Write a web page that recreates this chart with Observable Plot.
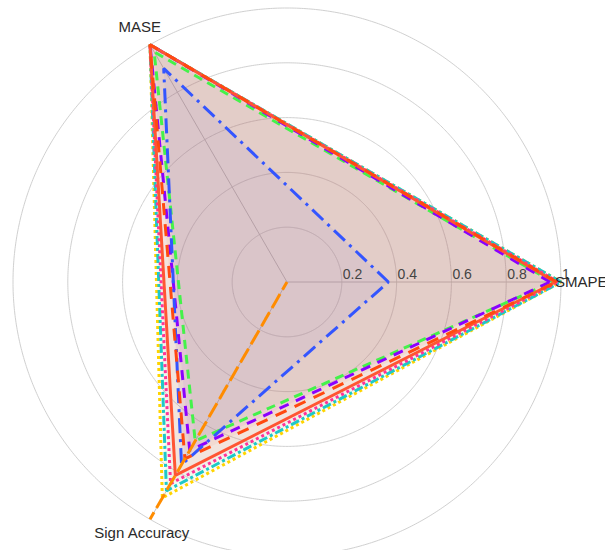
<!DOCTYPE html>
<html>
<head>
<meta charset="utf-8">
<script src="https://cdn.jsdelivr.net/npm/d3@7"></script>
<script src="https://cdn.jsdelivr.net/npm/@observablehq/plot@0.6"></script>
<style>
  html, body { margin: 0; padding: 0; background: #fff; }
  #chart svg { display: block; }
</style>
</head>
<body>
<div id="chart"></div>
<script>
// ---- data ----
const axisNames = ["SMAPE", "MASE", "Sign Accuracy"];
const axisAngles = [0, 120, 240]; // degrees, counterclockwise from east
const seriesNames = ["Model 1", "Model 2", "Model 3", "Model 4", "Model 5", "Model 6", "Model 7", "Model 8", "Model 9"];
const smapeValues = [1.00, 0.99, 1.00, 0.97, 0.37, 0.98, 0.985, 0.96, 0.00];
const maseValues  = [1.00, 1.00, 1.00, 0.97, 0.90, 1.00, 1.00, 1.00, 0.00];
const signValues  = [0.91, 0.85, 0.88, 0.67, 0.77, 0.815, 0.745, 0.71, 1.00];
const radialTicks = [0.2, 0.4, 0.6, 0.8, 1];
const radialTickLabels = ["0.2", "0.4", "0.6", "0.8", "1"];

// ---- styles ----
const seriesColors = ["#FFD400", "#FF3399", "#1EC8C8", "#44F24A", "#3355FF", "#FF5533", "#FF4A10", "#8A00FF", "#FF8C00"];
const seriesDash   = ["3,3", "3,3", "9,3,3,3", "9,6", "15,6,3,6", null, "12,9", "10,8", "9,12"];

// ---- geometry of the polar frame ----
const K = 60;                         // degrees of arc per unit of radius
const R = 274;                        // pixel radius of value 1
const lon = (a) => a + 90;            // screen angle -> longitude
const lat = (r) => 90 - r * K;        // radius value -> latitude
const projection = d3.geoAzimuthalEquidistant()
  .rotate([0, -90])
  .scale(R / (K * Math.PI / 180))
  .translate([286.5, 281.5]);

const series = seriesNames.map((name, i) => ({
  name,
  color: seriesColors[i],
  dash: seriesDash[i],
  points: axisNames.map((axis, j) => ({
    name, axis, angle: axisAngles[j],
    value: [smapeValues, maseValues, signValues][j][i]
  }))
}));

const drawOrder = [0, 2, 1, 3, 7, 4, 5, 6, 8];
const font = "'Liberation Sans', Arial, sans-serif";

const marks = [
  Plot.geo(radialTicks, {
    geometry: (r) => d3.geoCircle().center([0, 90]).radius(r * K).precision(0.5)(),
    stroke: "#d0d0d0", strokeWidth: 1, fill: "none"
  }),
  Plot.link(axisAngles, {
    x1: (a) => lon(a), y1: 90, x2: (a) => lon(a), y2: lat(1),
    curve: "linear", stroke: "#c4c4c4", strokeWidth: 1
  })
];

// fills
for (const i of drawOrder) {
  const s = series[i];
  marks.push(Plot.line(s.points, {
    x: (d) => lon(d.angle), y: (d) => lat(d.value),
    curve: "linear-closed", stroke: "none", fill: s.color, fillOpacity: 0.06
  }));
}
// outlines
for (const i of drawOrder) {
  const s = series[i];
  marks.push(Plot.line(s.points, {
    x: (d) => lon(d.angle), y: (d) => lat(d.value),
    curve: "linear-closed", stroke: s.color, strokeWidth: 3, fill: "none",
    strokeDasharray: s.dash, strokeLinecap: "butt", strokeLinejoin: "miter"
  }));
}

// radial tick labels
marks.push(Plot.text(radialTicks, {
  x: lon(0), y: (r) => lat(r), text: (r, i) => radialTickLabels[i],
  textAnchor: "start", dx: 1, dy: -7, fontSize: 14, fill: "#444"
}));

// angular labels
marks.push(Plot.text([axisNames[0]], {
  x: lon(axisAngles[0]), y: lat(1), text: (d) => d,
  textAnchor: "start", dx: -6, dy: 0, fontSize: 15, fill: "#2a2a2a"
}));
marks.push(Plot.text([axisNames[1]], {
  x: lon(axisAngles[1]), y: lat(1.074), text: (d) => d,
  textAnchor: "middle", fontSize: 15, fill: "#2a2a2a"
}));
marks.push(Plot.text([axisNames[2]], {
  x: lon(axisAngles[2]), y: lat(1.06), text: (d) => d,
  textAnchor: "middle", fontSize: 15, fill: "#2a2a2a"
}));

const chart = Plot.plot({
  width: 605,
  height: 550,
  margin: 0,
  projection,
  style: { background: "#fff", fontFamily: font, overflow: "hidden" },
  marks
});
document.getElementById("chart").appendChild(chart);
</script>
</body>
</html>
